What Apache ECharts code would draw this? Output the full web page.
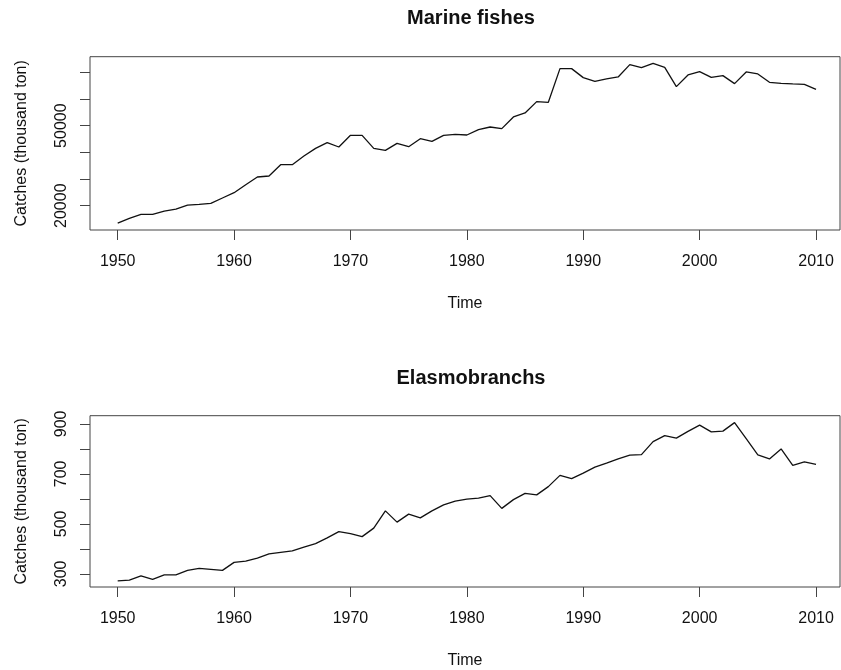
<!DOCTYPE html>
<html>
<head>
<meta charset="utf-8">
<script src="https://cdn.jsdelivr.net/npm/echarts@6/dist/echarts.min.js"></script>
<style>
  html, body { margin: 0; padding: 0; background: #fff; }
  #chart { width: 841px; height: 670px; }
</style>
</head>
<body>
<div id="chart"></div>
<script>
// Annual catches, 1950-2010 (thousand ton)
const years = [
  1950, 1951, 1952, 1953, 1954, 1955, 1956, 1957, 1958, 1959,
  1960, 1961, 1962, 1963, 1964, 1965, 1966, 1967, 1968, 1969,
  1970, 1971, 1972, 1973, 1974, 1975, 1976, 1977, 1978, 1979,
  1980, 1981, 1982, 1983, 1984, 1985, 1986, 1987, 1988, 1989,
  1990, 1991, 1992, 1993, 1994, 1995, 1996, 1997, 1998, 1999,
  2000, 2001, 2002, 2003, 2004, 2005, 2006, 2007, 2008, 2009,
  2010
];

const marineFishes = [
  13500, 15250, 16750, 16750, 18000, 18750, 20250, 20500, 20875, 22875,
  24875, 27875, 30750, 31125, 35375, 35375, 38625, 41500, 43625, 42000,
  46375, 46375, 41500, 40750, 43375, 42125, 45125, 44125, 46375, 46750,
  46500, 48500, 49500, 48875, 53250, 54750, 59000, 58750, 71375, 71375,
  68000, 66625, 67500, 68250, 72875, 71750, 73375, 71875, 64625, 69000,
  70250, 68125, 68750, 65750, 70125, 69375, 66250, 65875, 65625, 65500,
  63625
];

const elasmobranchs = [
  272, 275, 292, 278, 296, 296, 314, 322, 318, 314,
  346, 351, 363, 380, 386, 392, 407, 421, 444, 469,
  461, 449, 483, 552, 507, 539, 524, 552, 576, 591,
  599, 603, 613, 562, 597, 622, 616, 649, 694, 681,
  703, 727, 743, 760, 775, 777, 829, 853, 843, 870,
  895, 868, 871, 905, 841, 776, 760, 800, 734, 748,
  738
];

const yearTicks = [1950, 1960, 1970, 1980, 1990, 2000, 2010];
const marineTicks = [20000, 30000, 40000, 50000, 60000, 70000];
const marineLabels = [20000, 50000];
const elasmoTicks = [300, 400, 500, 600, 700, 800, 900];
const elasmoLabels = [300, 500, 700, 900];

const panelTitles = ['Marine fishes', 'Elasmobranchs'];
const xName = 'Time';
const yName = 'Catches (thousand ton)';

const FONT = '"Liberation Sans", Arial, Helvetica, sans-serif';
const INK = '#111';
const FRAME = '#444';

// plain numbers, no thousands separator
const plain = (v) => String(v);

function pairs(xs, ys) {
  return xs.map((x, i) => [x, ys[i]]);
}

function xAxisFor(gridIndex) {
  return {
    type: 'value',
    gridIndex,
    min: 1947.62,
    max: 2012.06,
    name: xName,
    nameLocation: 'middle',
    nameGap: 66,
    nameTextStyle: { fontFamily: FONT, fontSize: 16, color: INK },
    axisLine: { show: false },
    axisTick: {
      show: true, length: 10, inside: false,
      customValues: yearTicks,
      lineStyle: { color: FRAME, width: 1 }
    },
    axisLabel: {
      customValues: yearTicks,
      formatter: plain,
      margin: 24,
      fontFamily: FONT, fontSize: 16, color: INK
    },
    splitLine: { show: false }
  };
}

function yAxisFor(gridIndex, min, max, ticks, labels) {
  return {
    type: 'value',
    gridIndex,
    min, max,
    name: yName,
    nameLocation: 'middle',
    nameGap: 60,
    nameTextStyle: { fontFamily: FONT, fontSize: 16, color: INK },
    axisLine: { show: false },
    axisTick: {
      show: true, length: 10, inside: false,
      customValues: ticks,
      lineStyle: { color: FRAME, width: 1 }
    },
    axisLabel: {
      customValues: labels,
      formatter: plain,
      rotate: 90,
      margin: 20,
      fontFamily: FONT, fontSize: 16, color: INK
    },
    splitLine: { show: false }
  };
}

const chart = echarts.init(document.getElementById('chart'), null, { renderer: 'canvas' });

chart.setOption({
  animation: false,
  backgroundColor: '#fff',
  title: [
    {
      text: panelTitles[0], left: 466, top: 3, textAlign: 'center',
      textStyle: { fontFamily: FONT, fontSize: 20, fontWeight: 'bold', color: INK }
    },
    {
      text: panelTitles[1], left: 466, top: 363, textAlign: 'center',
      textStyle: { fontFamily: FONT, fontSize: 20, fontWeight: 'bold', color: INK }
    }
  ],
  grid: [
    { left: 90, top: 56.7, width: 750, height: 173.3, show: true,
      borderColor: FRAME, borderWidth: 1, backgroundColor: 'transparent' },
    { left: 90, top: 415.7, width: 750, height: 173.3, show: true,
      borderColor: FRAME, borderWidth: 1, backgroundColor: 'transparent' }
  ],
  xAxis: [xAxisFor(0), xAxisFor(1)],
  yAxis: [
    yAxisFor(0, 10892, 75847, marineTicks, marineLabels),
    yAxisFor(1, 247.4, 932.8, elasmoTicks, elasmoLabels)
  ],
  series: [
    {
      type: 'line', xAxisIndex: 0, yAxisIndex: 0,
      data: pairs(years, marineFishes),
      showSymbol: false, silent: true,
      lineStyle: { color: INK, width: 1.3 }
    },
    {
      type: 'line', xAxisIndex: 1, yAxisIndex: 1,
      data: pairs(years, elasmobranchs),
      showSymbol: false, silent: true,
      lineStyle: { color: INK, width: 1.3 }
    }
  ]
});
</script>
</body>
</html>
